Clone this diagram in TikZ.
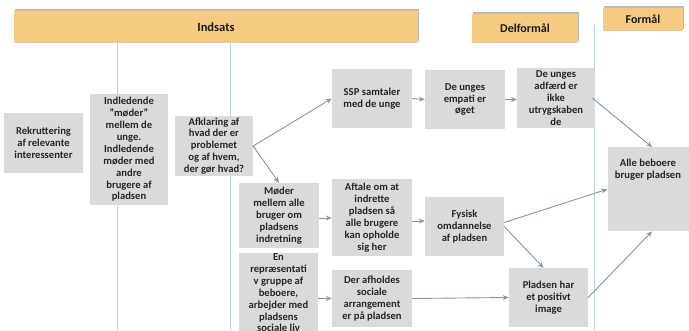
\documentclass[tikz,border=0pt]{standalone}
\usepackage{fontspec}
\setmainfont{Carlito}
\usetikzlibrary{arrows.meta,shadows}
\definecolor{hdr}{HTML}{F5CB82}
\definecolor{boxg}{HTML}{DADADA}
\definecolor{arr}{HTML}{7F97AD}
\definecolor{vline}{HTML}{BCCFEA}
\begin{document}
\begin{tikzpicture}[x=1pt,y=-1pt,
  hdrbox/.style={fill=hdr, inner sep=0pt, font=\bfseries\fontsize{12.5}{14}\selectfont, text=black!90,
    drop shadow={shadow xshift=1pt, shadow yshift=2pt, fill=black!45, opacity=.6}},
  box/.style={fill=boxg, align=center, inner sep=0pt, text=black!85,
    font=\bfseries\fontsize{10.6}{11.9}\selectfont},
  conn/.style={draw=arr, line width=0.9pt, -{Stealth[length=6pt,width=5pt]}},
  sepline/.style={draw=vline, line width=1pt}]
\useasboundingbox (0,0) rectangle (689,330);
\clip (0,0) rectangle (689,330);
% separator lines
\coordinate (l1t) at (117,43); \coordinate (l1b) at (117,330);
\coordinate (l2t) at (230,43); \coordinate (l2b) at (230,330);
\coordinate (l3t) at (594,25); \coordinate (l3b) at (594,330);
\draw[sepline] (l1t) -- (l1b);
\draw[sepline] (l2t) -- (l2b);
\draw[sepline] (l3t) -- (l3b);
% headers
\node[hdrbox, minimum width=404, minimum height=32] (hind) at (216,27) {Indsats};
\node[hdrbox, minimum width=106, minimum height=29, font=\bfseries\fontsize{12}{14}\selectfont] (hdel) at (525,28.5) {Delformål};
\node[hdrbox, minimum width=80, minimum height=23, font=\bfseries\fontsize{12}{14}\selectfont] (hfor) at (643,19) {Formål};
% boxes
\node[box, minimum width=79, minimum height=60] (rek) at (43.5,143) {Rekruttering\\af relevante\\interessenter};
\node[box, minimum width=78, minimum height=111] (ind) at (129,149.5) {Indledende\\”møder”\\mellem de\\unge.\\Indledende\\møder med\\andre\\brugere af\\pladsen};
\node[box, minimum width=78, minimum height=60] (afk) at (214,146) {Afklaring af\\hvad der er\\problemet\\og af hvem,\\der gør hvad?};
\node[box, minimum width=80, minimum height=59] (ssp) at (372,98.5) {SSP samtaler\\med de unge};
\node[box, minimum width=80, minimum height=59] (emp) at (465,99.5) {De unges\\empati er\\øget};
\node[box, minimum width=78, minimum height=60] (adf) at (556,98) {De unges\\adfærd er\\ikke\\utrygskaben\\de};
\node[box, minimum width=81, minimum height=84, anchor=north] (alle) at (648,147) {};
\node[box, anchor=north, align=center] (alletxt) at (648,159) {Alle beboere\\bruger pladsen};
\node[box, minimum width=80, minimum height=65] (mod) at (279,215.5) {Møder\\mellem alle\\bruger om\\pladsens\\indretning};
\node[box, minimum width=80, minimum height=77] (aft) at (372,217.5) {Aftale om at\\indrette\\pladsen så\\alle brugere\\kan opholde\\sig her};
\node[box, minimum width=79, minimum height=59] (fys) at (464.5,226.5) {Fysisk\\omdannelse\\af pladsen};
\node[box, minimum width=79, minimum height=92, anchor=north] (rep) at (278.5,253) {};
\node[box, anchor=north] (reptxt) at (278.5,253.5) {En\\repræsentati\\v gruppe af\\beboere,\\arbejder med\\pladsens\\sociale liv};
\node[box, minimum width=80, minimum height=57] (der) at (372,298.5) {Der afholdes\\sociale\\arrangement\\er på pladsen};
\node[box, minimum width=79, minimum height=59] (pla) at (548.5,297.5) {Pladsen har\\et positivt\\image};
% connectors
\draw[conn] (afk.east) -- (ssp.west);
\draw[conn] (afk.east) -- (mod.north);
\draw[conn] (ssp.east) -- (emp.west);
\draw[conn] (emp.east) -- (emp.east -| adf.west);
\draw[conn] ([xshift=-3pt]adf.east) -- ([xshift=4pt]alle.north);
\draw[conn] ([yshift=-2.5pt]mod.east) -- ([yshift=-2.5pt]mod.east -| aft.west);
\draw[conn] ([yshift=-3.5pt]aft.east) -- ([yshift=-3.5pt]aft.east -| fys.west);
\draw[conn] ([yshift=4pt]fys.east) -- (alle.west);
\draw[conn] (fys.east) -- ([xshift=-5pt]pla.north);
\draw[conn] (rep.east |- der.west) -- (der.west);
\draw[conn] (der.east) -- (pla.west);
\draw[conn] (pla.east) -- ([xshift=4pt]alle.south);
\end{tikzpicture}
\end{document}
